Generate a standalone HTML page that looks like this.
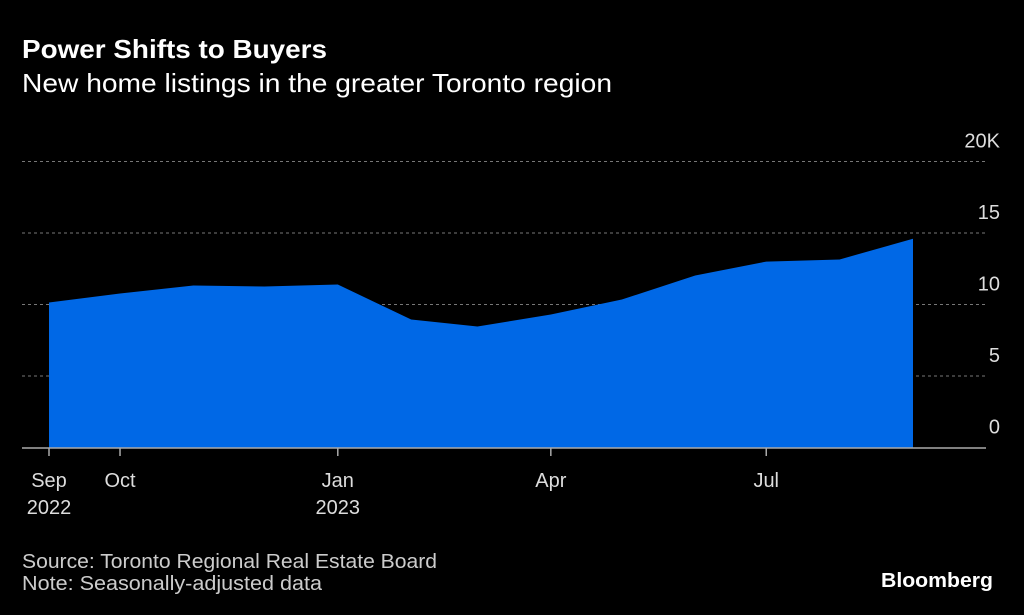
<!DOCTYPE html>
<html><head><meta charset="utf-8"><style>
html,body{margin:0;padding:0;background:#000;}
svg{display:block;font-family:"Liberation Sans",sans-serif;}
</style></head><body>
<svg id="chart" width="1024" height="615" viewBox="0 0 1024 615">
<rect width="1024" height="615" fill="#000"/>
<text x="22" y="58" fill="#fff" font-size="26" font-weight="bold" textLength="305" lengthAdjust="spacingAndGlyphs">Power Shifts to Buyers</text>
<text x="22" y="92" fill="#fff" font-size="26" textLength="590" lengthAdjust="spacingAndGlyphs">New home listings in the greater Toronto region</text>
<g id="grid"></g>
<g id="area"></g>
<g id="xaxis"></g>
<text x="22" y="568" fill="#ccc" font-size="20" textLength="415" lengthAdjust="spacingAndGlyphs">Source: Toronto Regional Real Estate Board</text>
<text x="22" y="590" fill="#ccc" font-size="20" textLength="300" lengthAdjust="spacingAndGlyphs">Note: Seasonally-adjusted data</text>
<text x="881" y="587" fill="#fff" font-size="20" font-weight="bold" textLength="112" lengthAdjust="spacingAndGlyphs">Bloomberg</text>
</svg>
<script>
const dayOffsets = [0,30,61,91,122,153,181,212,242,273,303,334,365];
const listings = [10.14,10.77,11.33,11.26,11.4,8.95,8.46,9.3,10.35,12.03,13.0,13.15,14.6];
const yTicks = [0,5,10,15,20];
const yTickLabels = ["0","5","10","15","20K"];
const xTickDays = [0,30,122,212,303];
const xTickLabels = [["Sep","2022"],["Oct"],["Jan","2023"],["Apr"],["Jul"]];

const NS="http://www.w3.org/2000/svg";
const x = d => 49 + d*(864/365);
const y = v => 447.5 - v*14.3;
function mk(tag, attrs, parent){const e=document.createElementNS(NS,tag);for(const k in attrs)e.setAttribute(k,attrs[k]);parent.appendChild(e);return e;}
const grid=document.getElementById('grid'), area=document.getElementById('area'), xaxis=document.getElementById('xaxis');

yTicks.forEach((t,i)=>{
  if(t>0){
    const l=mk('line',{x1:22,x2:986,y1:y(t),y2:y(t),stroke:'#777','stroke-width':1,'stroke-dasharray':'3,3'},grid);
    
    
  }
  const tx=mk('text',{x:1000,y:y(t)-14,fill:'#ddd','font-size':20,'text-anchor':'end'},grid);
  tx.textContent=yTickLabels[i];
  
  
});

let d='M'+x(dayOffsets[0])+','+y(0);
dayOffsets.forEach((m,i)=>{d+=' L'+x(m)+','+y(listings[i]);});
d+=' L'+x(dayOffsets[dayOffsets.length-1])+','+y(0)+' Z';
const p=mk('path',{d:d,fill:'#0068e6'},area);



const base=mk('line',{x1:22,x2:986,y1:448,y2:448,stroke:'#aaa','stroke-width':1.5},xaxis);


xTickDays.forEach((m,i)=>{
  const tk=mk('line',{x1:x(m),x2:x(m),y1:448,y2:456,stroke:'#aaa','stroke-width':1.5},xaxis);
  
  
  xTickLabels[i].forEach((s,j)=>{
    const tx=mk('text',{x:x(m),y:487+j*27,fill:'#ddd','font-size':20,'text-anchor':'middle'},xaxis);
    tx.textContent=s;
    
    
  });
});
</script>
</body></html>
